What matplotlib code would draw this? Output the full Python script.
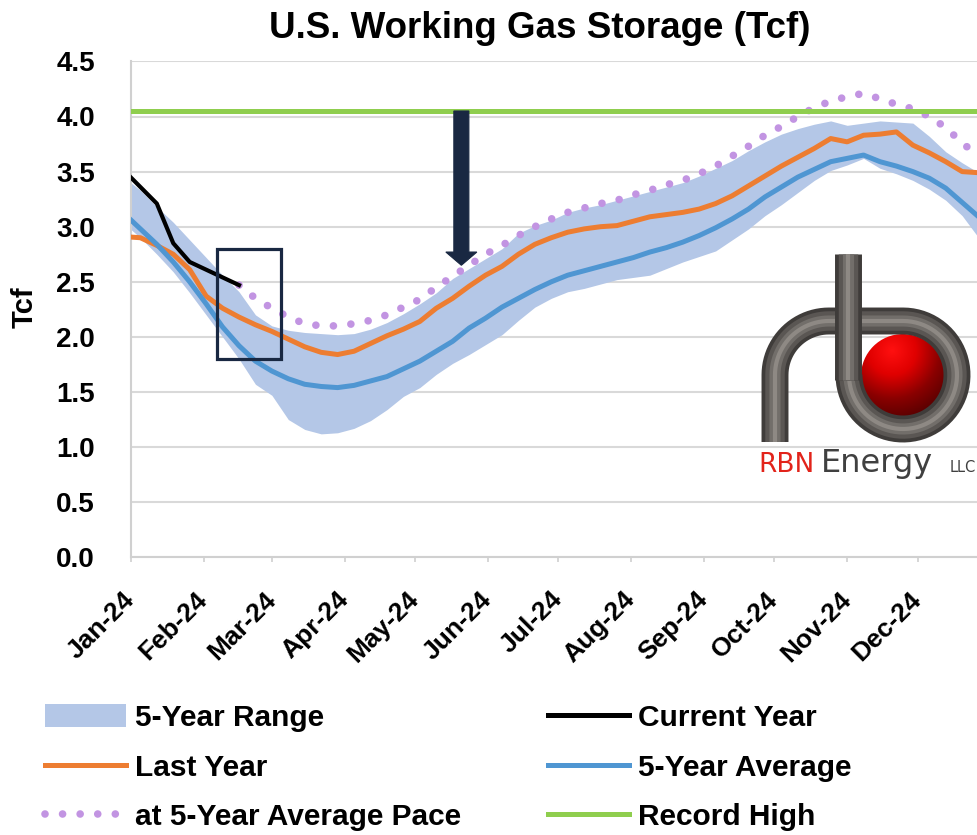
import numpy as np
import pandas as pd
import matplotlib
matplotlib.use("Agg")
import matplotlib.pyplot as plt
from matplotlib.patches import Patch, Circle, Rectangle, FancyArrow
from matplotlib.lines import Line2D
from matplotlib.colors import LinearSegmentedColormap
from matplotlib.transforms import ScaledTranslation

plt.rcParams['font.family'] = ['Liberation Sans', 'DejaVu Sans']

# weekly storage reports (week ending Friday)
week_end = pd.date_range("2023-12-29", periods=54, freq="7D")
week_days = np.array((week_end - pd.Timestamp("2024-01-01")).days)

current_year = [3.51, 3.36, 3.21, 2.85, 2.68, 2.61, 2.54, 2.47]

last_year = [2.91, 2.90, 2.83, 2.75, 2.61, 2.37, 2.26, 2.18, 2.11, 2.05,
             1.98, 1.91, 1.86, 1.84, 1.87, 1.94, 2.01, 2.07, 2.14, 2.26,
             2.35, 2.46, 2.56, 2.64, 2.75, 2.84, 2.90, 2.95, 2.98, 3.00,
             3.01, 3.05, 3.09, 3.11, 3.13, 3.16, 3.21, 3.28, 3.37, 3.46,
             3.55, 3.63, 3.71, 3.80, 3.77, 3.83, 3.84, 3.86, 3.74, 3.67,
             3.59, 3.50, 3.49, 3.47]

five_yr_avg = [3.12, 2.98, 2.84, 2.68, 2.50, 2.30, 2.09, 1.92, 1.78, 1.69,
               1.62, 1.57, 1.55, 1.54, 1.56, 1.60, 1.64, 1.71, 1.78, 1.87,
               1.96, 2.08, 2.17, 2.27, 2.35, 2.43, 2.50, 2.56, 2.60, 2.64,
               2.68, 2.72, 2.77, 2.81, 2.86, 2.92, 2.99, 3.07, 3.16, 3.27,
               3.36, 3.45, 3.52, 3.59, 3.62, 3.65, 3.59, 3.55, 3.50, 3.44,
               3.35, 3.22, 3.09, 2.98]

range_high = [3.45, 3.33, 3.18, 3.04, 2.88, 2.72, 2.56, 2.41, 2.20, 2.10,
              2.06, 2.04, 2.03, 2.02, 2.03, 2.07, 2.13, 2.21, 2.30, 2.40,
              2.53, 2.62, 2.71, 2.80, 2.94, 3.01, 3.06, 3.13, 3.17, 3.20,
              3.24, 3.28, 3.32, 3.36, 3.40, 3.46, 3.53, 3.60, 3.69, 3.77,
              3.84, 3.89, 3.93, 3.96, 3.92, 3.94, 3.96, 3.95, 3.94, 3.82,
              3.68, 3.58, 3.49, 3.40]

range_low = [3.03, 2.90, 2.75, 2.59, 2.40, 2.20, 2.00, 1.80, 1.57, 1.47,
             1.25, 1.16, 1.12, 1.13, 1.17, 1.24, 1.34, 1.46, 1.54, 1.66,
             1.76, 1.84, 1.93, 2.02, 2.15, 2.27, 2.35, 2.41, 2.44, 2.48,
             2.52, 2.54, 2.56, 2.62, 2.68, 2.73, 2.78, 2.88, 2.98, 3.10,
             3.20, 3.31, 3.42, 3.51, 3.56, 3.62, 3.53, 3.48, 3.42, 3.34,
             3.24, 3.10, 2.90, 2.75]

# projection at 5-year average pace, starts at last reported week
pace = [2.47, 2.35, 2.26, 2.18, 2.12, 2.10, 2.10, 2.12, 2.15, 2.20,
        2.27, 2.34, 2.45, 2.55, 2.65, 2.75, 2.83, 2.92, 3.00, 3.07,
        3.13, 3.17, 3.21, 3.24, 3.29, 3.33, 3.38, 3.42, 3.48, 3.55,
        3.64, 3.73, 3.83, 3.91, 4.00, 4.08, 4.14, 4.18, 4.21, 4.16,
        4.11, 4.07, 4.00, 3.90, 3.76, 3.64, 3.52]

record_high = 4.05

month_days = [0, 31, 60, 91, 121, 152, 182, 213, 244, 274, 305, 335]
month_labels = ["Jan-24", "Feb-24", "Mar-24", "Apr-24", "May-24", "Jun-24",
                "Jul-24", "Aug-24", "Sep-24", "Oct-24", "Nov-24", "Dec-24"]

c_band = "#b4c7e7"
c_orange = "#ed7d31"
c_blue = "#4f96d2"
c_purple = "#c294e2"
c_green = "#8fce4e"
c_navy = "#192842"

W, H = 978, 835
fig = plt.figure(figsize=(W / 100, H / 100), dpi=100)
ax = fig.add_axes([131 / W, 1 - 557.3 / H, (988 - 131) / W, (557.3 - 61.4) / H])

ax.fill_between(week_days, range_low, range_high, color=c_band, lw=0, zorder=2)
ax.plot(week_days, last_year, color=c_orange, lw=3.6, zorder=3)
ax.plot(week_days, five_yr_avg, color=c_blue, lw=3.6, zorder=3)
ax.plot(week_days[7:], pace, color=c_purple, lw=5.5, linestyle=(0, (0.001, 2.3)),
        dash_capstyle='round', zorder=3)
ax.plot(week_days[:len(current_year)], current_year, color='black', lw=3, zorder=4)
ax.plot([0, 365], [record_high, record_high], color=c_green, lw=3.6, zorder=3)

# annotations
ax.add_patch(Rectangle((36.6, 1.80), 27.3, 1.0, fill=False, edgecolor=c_navy, lw=2.3, zorder=5))
ax.add_patch(FancyArrow(140.7, record_high, 0, -1.40, width=6.4, head_width=13.2,
                        head_length=0.12, length_includes_head=True,
                        facecolor=c_navy, edgecolor=c_navy, lw=0.8, zorder=6))

ax.set_xlim(0, 365)
ax.set_ylim(0, 4.5)
ax.set_yticks(np.arange(0, 4.51, 0.5))
ax.set_yticklabels([f"{v:.1f}" for v in np.arange(0, 4.51, 0.5)], fontsize=20, fontweight='bold')
ax.set_xticks(month_days)
ax.set_xticklabels(month_labels, fontsize=19, fontweight='bold', rotation=45,
                   ha='right', va='center', rotation_mode='anchor')
for lab in ax.get_xticklabels():
    lab.set_transform(lab.get_transform() + ScaledTranslation(0.10, 0, fig.dpi_scale_trans))
ax.tick_params(axis='y', length=0, pad=26)
ax.tick_params(axis='x', length=3.6, width=1.2, color='#d0d0d0', pad=24)
ax.yaxis.grid(True, color='#d9d9d9', lw=1.5)
ax.set_axisbelow(True)
for s in ['top', 'right']:
    ax.spines[s].set_visible(False)
for s in ['left', 'bottom']:
    ax.spines[s].set_color('#d0d0d0')
    ax.spines[s].set_linewidth(1.5)

fig.text(540 / W, 1 - 28 / H, "U.S. Working Gas Storage (Tcf)", ha='center', va='center',
         fontsize=26.5, fontweight='bold')
fig.text(25 / W, 1 - 307 / H, "Tcf", rotation=90, ha='center', va='center',
         fontsize=21, fontweight='bold')

# legend, two columns
h_range = Patch(facecolor=c_band, edgecolor='none')
h_last = Line2D([], [], color=c_orange, lw=3.6)
h_pace = Line2D([], [], color=c_purple, lw=5.5, linestyle=(0, (0.001, 2.3)), dash_capstyle='round')
h_cur = Line2D([], [], color='black', lw=3.6)
h_avg = Line2D([], [], color=c_blue, lw=3.6)
h_rec = Line2D([], [], color=c_green, lw=3.6)
leg_kw = dict(loc='upper left', frameon=False, handlelength=2.7,
              handletextpad=0.3, labelspacing=0.72, borderpad=0, borderaxespad=0,
              handleheight=0.8, prop={'weight': 'bold', 'size': 21.5})
fig.legend([h_range, h_last, h_pace], ["5-Year Range", "Last Year", "at 5-Year Average Pace"],
           bbox_to_anchor=(45 / W, 1 - 704 / H), **leg_kw)
fig.legend([h_cur, h_avg, h_rec], ["Current Year", "5-Year Average", "Record High"],
           bbox_to_anchor=(548 / W, 1 - 704 / H), **leg_kw)

# RBN logo, drawn in a pixel-coordinate inset
lax = fig.add_axes([740 / W, 1 - 490 / H, 238 / W, 240 / H])
lax.axis('off')
lax.patch.set_alpha(0)

gx, gy = np.meshgrid(np.linspace(860, 946, 120), np.linspace(334, 418, 120))
dist = np.hypot(gx - 892, gy - 351) / 72
red_cmap = LinearSegmentedColormap.from_list("ball", ["#ff1010", "#e00000", "#8a0000", "#520000"])
ball = Circle((903, 376), 42, transform=lax.transData)
img = lax.imshow(np.clip(dist, 0, 1), cmap=red_cmap, extent=(860, 946, 418, 334),
                 origin='upper', aspect='auto', zorder=1)
img.set_clip_path(ball)

t_r = np.linspace(np.pi, 1.5 * np.pi, 25)
t_b = np.linspace(-0.5 * np.pi, np.pi, 60)
px = np.concatenate([[775, 775], 829 + 54 * np.cos(t_r), [903], 903 + 54 * np.cos(t_b)])
py = np.concatenate([[442, 375], 375 + 54 * np.sin(t_r), [321], 375 + 54 * np.sin(t_b)])
pipe_layers = [(19.4, '#3f3c3a'), (14, '#5a5653'), (8, '#726e6a'), (3, '#8e8984')]
for lw, col in pipe_layers:
    lax.plot(px, py, color=col, lw=lw, solid_capstyle='butt', solid_joinstyle='round', zorder=2)
for lw, col in pipe_layers:
    lax.plot([848, 848], [254, 380], color=col, lw=lw, solid_capstyle='butt', zorder=3)
lax.set_xlim(740, 978)
lax.set_ylim(490, 250)

lax.text(758, 472, "RBN", color='#e2231a', fontsize=19, family='DejaVu Sans', va='baseline')
lax.text(821, 472, "Energy", color='#404040', fontsize=23, family='DejaVu Sans', va='baseline')
lax.text(950, 472, "LLC", color='#404040', fontsize=10.5, family='DejaVu Sans', va='baseline')

fig.savefig("out.png", dpi=100)
